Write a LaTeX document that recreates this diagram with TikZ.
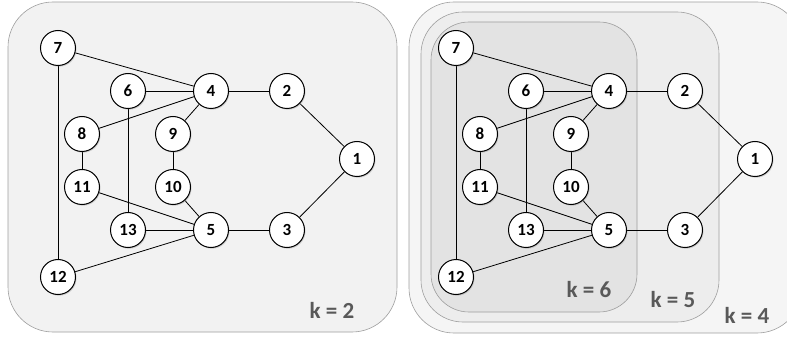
\documentclass[tikz,border=0pt]{standalone}
\usepackage{fontspec}
\setmainfont{Carlito}
\usetikzlibrary{shadows}
\pgfdeclarelayer{panels}
\pgfdeclarelayer{edges}
\pgfsetlayers{panels,edges,main}
\tikzset{
  vtx/.style={circle, draw=black, line width=1pt, fill=white, minimum size=35pt, inner sep=0pt,
    font=\bfseries\fontsize{17}{17}\selectfont,
    drop shadow={shadow xshift=1pt, shadow yshift=-1.2pt, opacity=0.35, fill=gray}},
  edge/.style={draw=black, line width=0.8pt},
  panel/.style={draw=black!38, line width=0.6pt, rounded corners=45pt},
  klabel/.style={font=\bfseries\fontsize{23}{23}\selectfont, text=black!65}
}
\newcommand\drawgraph[2]{%
  \begin{scope}[shift={(#2,0)}]
  \node[vtx] (#1-7) at (58,48) {7};
  \node[vtx] (#1-6) at (128,91) {6};
  \node[vtx] (#1-4) at (211,91) {4};
  \node[vtx] (#1-2) at (287,91) {2};
  \node[vtx] (#1-8) at (82,134) {8};
  \node[vtx] (#1-9) at (173,134) {9};
  \node[vtx] (#1-1) at (357,159) {1};
  \node[vtx] (#1-11) at (82,187) {11};
  \node[vtx] (#1-10) at (173,187) {10};
  \node[vtx] (#1-13) at (128,230) {13};
  \node[vtx] (#1-5) at (211,230) {5};
  \node[vtx] (#1-3) at (287,230) {3};
  \node[vtx] (#1-12) at (58,277) {12};
  \end{scope}
  \begin{pgfonlayer}{edges}
  \foreach \a/\b in {7/4,7/12,6/4,6/13,4/2,4/8,4/9,8/11,9/10,2/1,1/3,11/5,10/5,13/5,5/3,12/5}{
    \draw[edge] (#1-\a) -- (#1-\b);
  }
  \end{pgfonlayer}
}
\begin{document}
\begin{tikzpicture}[x=1pt,y=-1pt]
\useasboundingbox (0,0) rectangle (787,339);
\begin{pgfonlayer}{panels}
\begin{scope}
\clip (0,0) rectangle (787,339);
% left panel
\draw[panel, fill=black!5] (8,2) rectangle (397,332);
% right panels
\draw[panel, fill=black!4] (409,2) rectangle (802,333);
\draw[panel, fill=black!7, rounded corners=42pt] (421,12) rectangle (719,322);
\draw[panel, fill=black!11, rounded corners=38pt] (431,22) rectangle (637,312);
\end{scope}
\end{pgfonlayer}
\node[klabel] (k2) at (332,310) {k = 2};
\node[klabel] (k6) at (589,290) {k = 6};
\node[klabel] (k5) at (673,300) {k = 5};
\node[klabel] (k4) at (747,315) {k = 4};
\drawgraph{L}{0}
\drawgraph{R}{398}
\end{tikzpicture}
\end{document}
